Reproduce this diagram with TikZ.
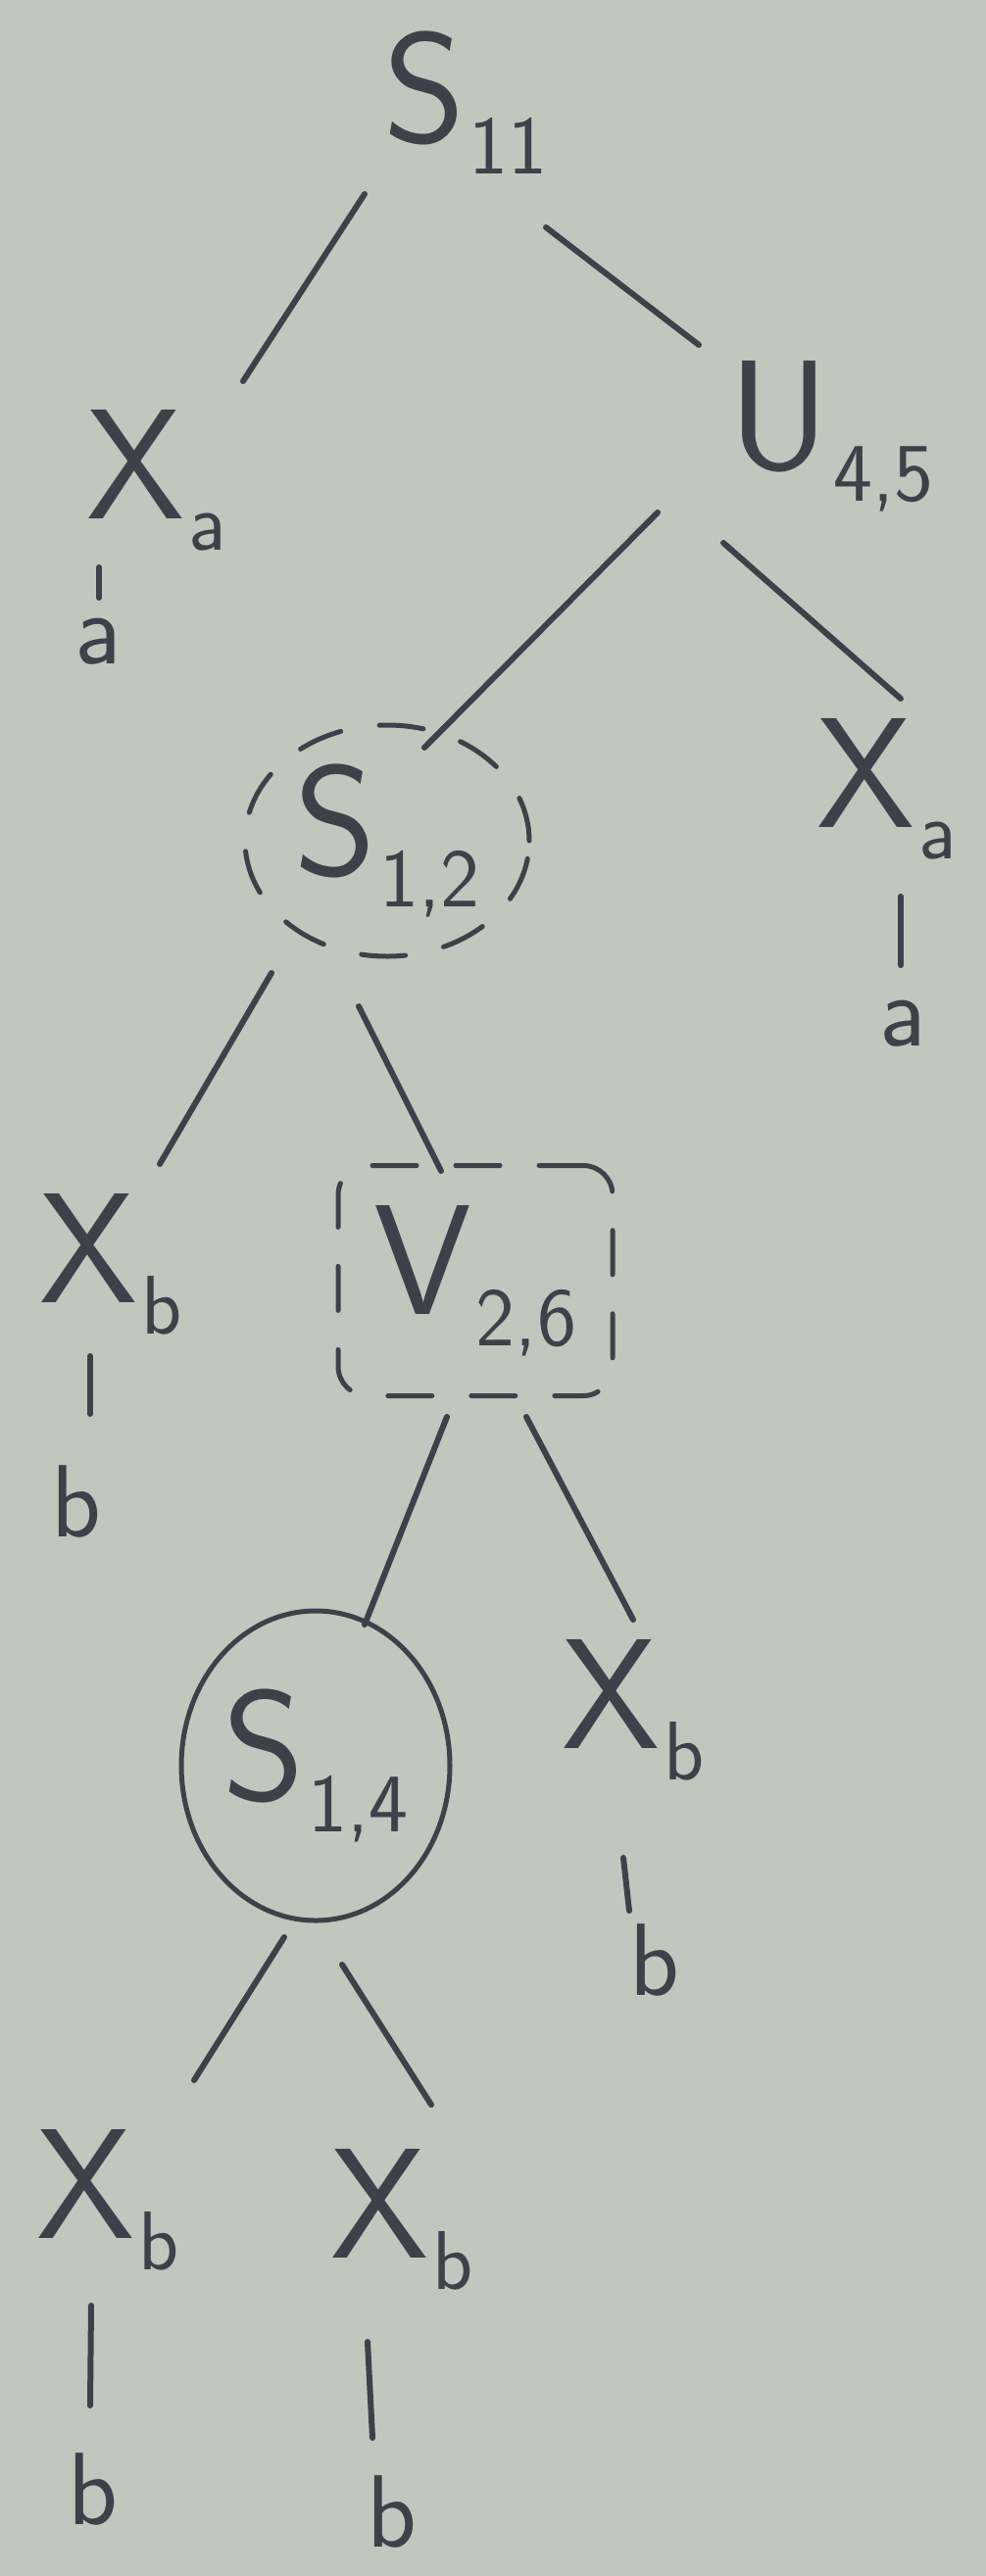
\documentclass[tikz,border=0pt]{standalone}
\usepackage{fontspec}
\usetikzlibrary{calc,shapes.geometric}
\definecolor{paper}{RGB}{194,199,189}
\definecolor{ink}{RGB}{62,64,74}
\newcommand{\sy}[2]{#1\kern4pt\raisebox{-32pt}{\fontsize{85}{85}\selectfont #2}}
\begin{document}
\begin{tikzpicture}[x=1pt,y=-1pt,
  lab/.style={text=ink,font=\sffamily\fontsize{160}{160}\selectfont,inner sep=0pt},
  leaf/.style={text=ink,font=\sffamily\fontsize{105}{105}\selectfont,inner sep=0pt},
  edge/.style={draw=ink,line width=6pt,line cap=round},
  dashring/.style={draw=ink,line width=5pt,line cap=round,dash pattern=on 45pt off 40pt},
  ring/.style={draw=ink,line width=5pt}]
\useasboundingbox (0,0) rectangle (1005,2629);
\fill[paper] (-10,-10) rectangle (1015,2639);
% nodes
\node[lab] (s11) at (475,105) {\sy{S}{11}};
\node[lab] (xa1) at (160,490) {\sy{X}{a}};
\node[leaf] (a1) at (100,655) {a};
\node[lab] (u45) at (848,445) {\sy{U}{4,5}};
\node[lab] (xa2) at (905,805) {\sy{X}{a}};
\node[leaf] (a2) at (921,1045) {a};
\node[lab,dashring,ellipse,minimum width=290pt,minimum height=236pt] (s12) at (395,858) {\sy{S}{1,2}};
\node[lab] (xb1) at (113,1290) {\sy{X}{b}};
\node[leaf] (b1) at (78,1532) {b};
\node[lab,dashring,rectangle,rounded corners=30pt,minimum width=280pt,minimum height=235pt] (v26) at (485,1307) {\sy{V}{2,6}};
\node[lab,ring,ellipse,minimum width=274pt,minimum height=316pt] (s14) at (322,1802) {\sy{S}{1,4}};
\node[lab] (xb2) at (646,1745) {\sy{X}{b}};
\node[leaf] (b2) at (668,2000) {b};
\node[lab] (xb3) at (110,2245) {\sy{X}{b}};
\node[leaf] (b3) at (95,2540) {b};
\node[lab] (xb4) at (410,2265) {\sy{X}{b}};
\node[leaf] (b4) at (400,2563) {b};
% tree edges
\draw[edge] ($(s11)+(-103,93)$) -- ($(xa1)+(88,-101)$);
\draw[edge] ($(s11)+(82,127)$) -- ($(u45)+(-135,-93)$);
\draw[edge] ($(u45)+(-177,78)$) -- ($(s12)+(38,-95)$);
\draw[edge] ($(u45)+(-110,109)$) -- ($(xa2)+(14,-92)$);
\draw[edge] ($(s12)+(-118,135)$) -- ($(xb1)+(50,-102)$);
\draw[edge] ($(s12)+(-29,169)$) -- ($(v26)+(-35,-112)$);
\draw[edge] ($(v26)+(-29,139)$) -- ($(s14)+(50,-144)$);
\draw[edge] ($(v26)+(52,139)$) -- ($(xb2)+(0,-92)$);
\draw[edge] ($(s14)+(-32,175)$) -- ($(xb3)+(88,-122)$);
\draw[edge] ($(s14)+(27,203)$) -- ($(xb4)+(30,-117)$);
% leaf edges
\draw[edge] ($(xa1)+(-59,89)$) -- ($(a1)+(1,-45)$);
\draw[edge] ($(xa2)+(14,110)$) -- ($(a2)+(-2,-60)$);
\draw[edge] ($(xb1)+(-21,94)$) -- ($(b1)+(14,-89)$);
\draw[edge] ($(xb2)+(-10,151)$) -- ($(b2)+(-26,-50)$);
\draw[edge] ($(xb3)+(-17,108)$) -- ($(b3)+(-3,-85)$);
\draw[edge] ($(xb4)+(-35,125)$) -- ($(b4)+(-20,-75)$);
\end{tikzpicture}
\end{document}
